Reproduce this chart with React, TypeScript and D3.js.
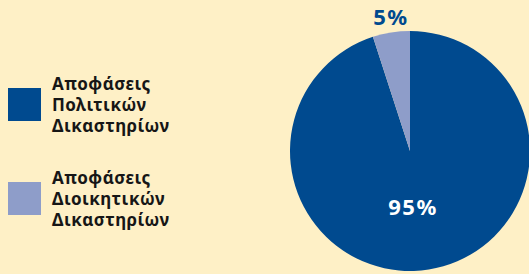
import React from 'react';
import * as d3 from 'd3';

const categories = ['Αποφάσεις Πολιτικών Δικαστηρίων', 'Αποφάσεις Διοικητικών Δικαστηρίων'];
const legendLines = [
  ['Αποφάσεις', 'Πολιτικών', 'Δικαστηρίων'],
  ['Αποφάσεις', 'Διοικητικών', 'Δικαστηρίων'],
];
const values = [95, 5];
const labels = ['95%', '5%'];
const colors = ['#004a8f', '#8e9dc9'];

const width = 529;
const height = 274;
const cx = 410;
const cy = 151;
const radius = 120;
const font = '"Noto Sans", sans-serif';

export default function App() {
  const pie = d3.pie<number>().sort(null).value(d => d);
  const arcs = pie(values);
  const arc = d3.arc<d3.PieArcDatum<number>>().innerRadius(0).outerRadius(radius);

  return (
    <svg width={width} height={height} style={{position: 'absolute', left: 0, top: 0, background: '#fef0c6'}}>
      <rect width={width} height={height} fill="#fef0c6" />
      <g transform={`translate(${cx},${cy})`}>
        {arcs.map((a, i) => (
          <path key={categories[i]} d={arc(a) || ''} fill={colors[i]} />
        ))}
        {/* inner label for big slice */}
        <text x={3} y={64} fill="#fff" fontFamily={font} fontWeight={700} fontSize={22} letterSpacing={1.5} textAnchor="middle">{labels[0]}</text>
        {/* outside label for small slice */}
        <text x={-19} y={-126} fill={colors[0]} fontFamily={font} fontWeight={700} fontSize={22} letterSpacing={1.5} textAnchor="middle">{labels[1]}</text>
      </g>
      {legendLines.map((lines, i) => (
        <g key={i} transform={`translate(8,${88 + i * 94})`}>
          <rect width={33} height={33} fill={colors[i]} />
          {lines.map((l, j) => (
            <text key={j} x={44} y={2 + j * 21} fill="#161616" fontFamily={font} fontWeight={700} fontSize={17} letterSpacing={0.5}>{l}</text>
          ))}
        </g>
      ))}
    </svg>
  );
}
